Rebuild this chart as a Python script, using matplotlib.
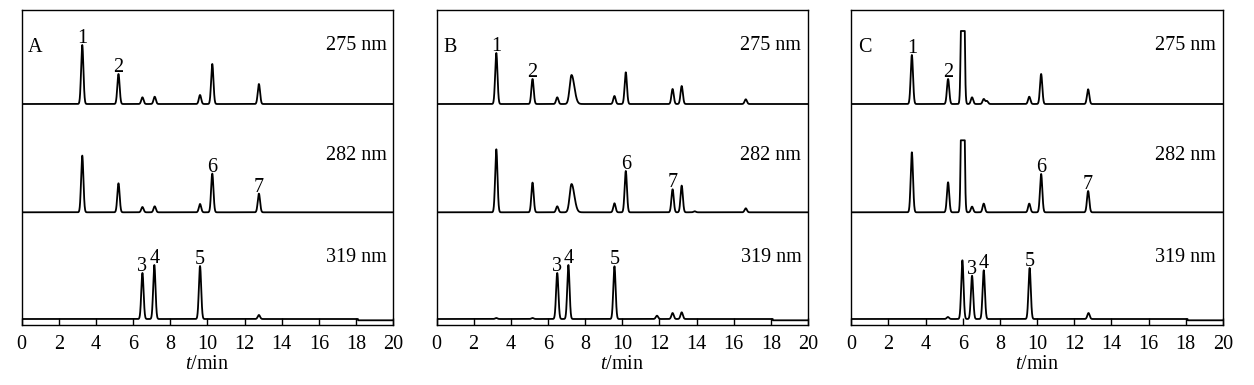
import numpy as np
import matplotlib
matplotlib.use("Agg")
import matplotlib.pyplot as plt

plt.rcParams["font.family"] = ["Liberation Serif", "DejaVu Serif"]
plt.rcParams["mathtext.fontset"] = "custom"
plt.rcParams["mathtext.rm"] = "Liberation Serif"
plt.rcParams["mathtext.it"] = "Liberation Serif:italic"

# wavelengths (top to bottom) and panel names
wavelengths = ["275 nm", "282 nm", "319 nm"]
panels = ["A", "B", "C"]
xticks = list(range(0, 21, 2))

# peak tables: retention time (min), height (signal units)
# panel A
a275_rt = [3.26, 5.21, 6.50, 7.16, 9.60, 10.26, 12.77]
a275_h = [59.0, 30.0, 6.7, 7.3, 9.0, 40.0, 20.0]
a282_rt = [3.26, 5.21, 6.50, 7.16, 9.60, 10.26, 12.77]
a282_h = [56.7, 29.0, 5.3, 6.0, 8.3, 38.7, 18.7]
a319_rt = [6.50, 7.14, 9.60, 12.77]
a319_h = [46.0, 54.0, 53.0, 4.0]

# panel B
b275_rt = [3.22, 5.17, 6.50, 7.27, 9.58, 10.19, 12.71, 13.20, 16.65]
b275_h = [51.0, 25.0, 6.7, 29.0, 8.0, 31.7, 15.0, 18.0, 4.7]
b282_rt = [3.22, 5.17, 6.50, 7.27, 9.58, 10.19, 12.71, 13.20, 13.90, 16.65]
b282_h = [63.0, 29.7, 6.0, 28.3, 9.0, 41.3, 23.0, 26.7, 1.0, 4.0]
b319_rt = [3.22, 5.17, 6.50, 7.10, 9.58, 11.87, 12.71, 13.20]
b319_h = [1.0, 1.0, 46.0, 54.0, 52.7, 3.3, 6.0, 6.7]

# panel C (peak near 6.0 min is saturated at 275/282 nm)
c275_rt = [3.26, 5.21, 6.00, 6.50, 7.13, 7.30, 9.58, 10.22, 12.75]
c275_h = [49.0, 25.0, 365.0, 6.7, 5.0, 3.0, 7.3, 30.0, 14.7]
c282_rt = [3.26, 5.21, 6.00, 6.50, 7.13, 9.58, 10.22, 12.75]
c282_h = [60.0, 30.0, 360.0, 5.7, 8.7, 8.7, 38.3, 21.3]
c319_rt = [5.20, 5.98, 6.50, 7.13, 9.60, 12.77]
c319_h = [2.0, 58.7, 43.3, 48.7, 51.0, 6.0]
c_saturation = [73.0, 72.0, None]

# broad peak (B, 7.27 min) has a larger width
broad_rt = 7.27

traces = {
    "A": [(a275_rt, a275_h), (a282_rt, a282_h), (a319_rt, a319_h)],
    "B": [(b275_rt, b275_h), (b282_rt, b282_h), (b319_rt, b319_h)],
    "C": [(c275_rt, c275_h), (c282_rt, c282_h), (c319_rt, c319_h)],
}
saturation = {"A": [None, None, None], "B": [None, None, None], "C": c_saturation}

# numbered peaks: (label, trace index, retention time)
labels = {
    "A": [("1", 0, 3.26), ("2", 0, 5.21), ("6", 1, 10.26), ("7", 1, 12.77),
          ("3", 2, 6.50), ("4", 2, 7.14), ("5", 2, 9.60)],
    "B": [("1", 0, 3.22), ("2", 0, 5.17), ("6", 1, 10.19), ("7", 1, 12.71),
          ("3", 2, 6.50), ("4", 2, 7.10), ("5", 2, 9.58)],
    "C": [("1", 0, 3.26), ("2", 0, 5.21), ("6", 1, 10.22), ("7", 1, 12.75),
          ("3", 2, 6.50), ("4", 2, 7.13), ("5", 2, 9.60)],
}

offsets = [221.0, 112.7, 6.0]   # vertical stacking of the three traces
t = np.linspace(0, 20, 4001)


def chromatogram(rts, hs, sat):
    y = np.zeros_like(t)
    for rt, h in zip(rts, hs):
        if abs(rt - broad_rt) < 0.01:
            left = np.exp(-0.5 * ((t - rt) / 0.10) ** 2)
            right = np.exp(-0.5 * ((t - rt) / 0.15) ** 2)
            y += h * np.where(t < rt, left, right)
        else:
            s = 0.062
            y += h * np.exp(-0.5 * ((t - rt) / s) ** 2)
    if sat is not None:
        y = np.minimum(y, sat)
    return y


fig = plt.figure(figsize=(12.54, 3.85), dpi=100)
lefts = [21.7, 436.5, 851.3]
fs = 14.5

for i, p in enumerate(panels):
    ax = fig.add_axes([lefts[i] / 1254, 60 / 385, 371.5 / 1254, 315.5 / 385])
    for j, (rts, hs) in enumerate(traces[p]):
        y = chromatogram(rts, hs, saturation[p][j])
        if j == 2:
            y = y - 1.3 * (t > 18.1)
        ax.plot(t, y + offsets[j], color="black", lw=1.3)
        ax.text(19.64, [280, 170, 67][j], wavelengths[j], ha="right", va="center", fontsize=fs)
    for lab, j, rt in labels[p]:
        rts, hs = traces[p][j]
        h = min(hs[rts.index(rt)], 80)
        ax.text(rt, offsets[j] + h - 3.0, lab, ha="center", va="bottom", fontsize=fs)
    ax.text(0.35, 278, p, ha="left", va="center", fontsize=fs)

    ax.set_xlim(0, 20)
    ax.set_ylim(0, 315.5)
    ax.set_xticks(xticks)
    ax.set_yticks([])
    ax.tick_params(axis="x", direction="in", length=4.7, width=1.0, labelsize=fs, pad=7)
    for sp in ax.spines.values():
        sp.set_linewidth(1.0)
    ax.set_xlabel(r"$t$/min", fontsize=fs, labelpad=1)

fig.savefig("out.png", dpi=100)
